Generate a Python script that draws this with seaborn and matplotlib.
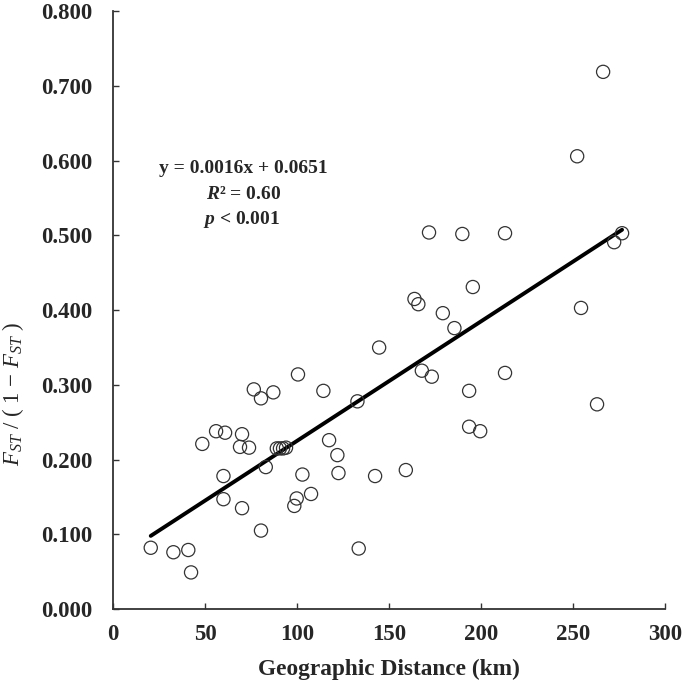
import numpy as np
import pandas as pd
import matplotlib
matplotlib.use('Agg')
import matplotlib.pyplot as plt
import seaborn as sns

# distancia geografica (km) e Fst/(1-Fst)
distancia = [20.5, 32.8, 40.9, 42.4, 48.5, 56.0, 60.9, 60.0, 60.0, 70.1,
             69.0, 73.9, 70.1, 76.5, 80.4, 87.1, 80.4, 83.0, 89.0, 90.7,
             92.4, 94.0, 100.5, 102.9, 99.8, 98.5, 114.3, 117.4, 121.9, 122.5,
             107.6, 132.8, 133.5, 142.4, 144.6, 159.1, 163.8, 165.9, 167.8, 173.2,
             171.7, 179.2, 185.5, 189.8, 193.5, 193.5, 195.5, 199.5, 213.0, 213.0,
             252.2, 254.3, 263.0, 266.3, 272.3, 276.6]
fst = [0.082, 0.076, 0.079, 0.049, 0.221, 0.238, 0.236, 0.178, 0.147, 0.234,
       0.217, 0.216, 0.135, 0.294, 0.282, 0.290, 0.105, 0.190, 0.215, 0.215,
       0.215, 0.216, 0.314, 0.180, 0.148, 0.138, 0.292, 0.226, 0.206, 0.182,
       0.154, 0.278, 0.081, 0.178, 0.350, 0.186, 0.415, 0.408, 0.319, 0.311,
       0.504, 0.396, 0.376, 0.502, 0.292, 0.244, 0.431, 0.238, 0.503, 0.316,
       0.606, 0.403, 0.274, 0.719, 0.491, 0.503]

# regressao informada no grafico
inclinacao = 0.0016
intercepto = 0.0651

x_ticks = [0, 50, 100, 150, 200, 250, 300]
y_ticks = [0.0, 0.1, 0.2, 0.3, 0.4, 0.5, 0.6, 0.7, 0.8]

dados = pd.DataFrame({'dist': distancia, 'fst': fst})
x_reta = [min(distancia), max(distancia)]
reta = pd.DataFrame({'dist': x_reta,
                     'fst': [inclinacao * v + intercepto for v in x_reta]})

sns.set_style('ticks')
plt.rcParams['font.family'] = ['Liberation Serif', 'DejaVu Serif']
plt.rcParams['mathtext.fontset'] = 'custom'
plt.rcParams['mathtext.rm'] = 'Liberation Serif'
plt.rcParams['mathtext.it'] = 'Liberation Serif:italic'
plt.rcParams['mathtext.bf'] = 'Liberation Serif:bold'
plt.rcParams['mathtext.bfit'] = 'Liberation Serif:bold:italic'

fig = plt.figure(figsize=(6.85, 6.87), dpi=100)
ax = fig.add_axes([0.165, 0.1135, 0.806, 0.870])

sns.scatterplot(data=dados, x='dist', y='fst', ax=ax, s=90,
                facecolor='none', edgecolor='#333333', linewidth=0.9, zorder=3)
sns.lineplot(data=reta, x='dist', y='fst', ax=ax, color='black',
             linewidth=2.8, zorder=2)

ax.set_xlim(0, 300)
ax.set_ylim(0, 0.8)
ax.set_xticks(x_ticks)
ax.set_yticks(y_ticks)
ax.set_xticklabels([str(t) for t in x_ticks], fontweight='bold', fontsize=16.5)
ax.set_yticklabels([f'{t:.3f}' for t in y_ticks], fontweight='bold', fontsize=16.5)
ax.tick_params(axis='both', direction='in', length=4, width=1, color='#333333')
ax.tick_params(axis='x', pad=11)
ax.tick_params(axis='y', pad=15)
sns.despine(ax=ax)
for lado in ['left', 'bottom']:
    ax.spines[lado].set_linewidth(1.3)
    ax.spines[lado].set_color('#333333')

ax.set_xlabel('Geographic Distance (km)', fontweight='bold', fontsize=16.8, labelpad=10)
ax.set_ylabel(r'$F_{ST}$ / ( 1 $-$ $F_{ST}$ )', fontsize=16.5)
ax.yaxis.set_label_coords(-0.158, 0.36)

ax.text(71, 0.589, 'y = 0.0016x + 0.0651', ha='center', va='center',
        fontweight='bold', fontsize=14)
ax.text(71, 0.555, r'$\mathbfit{R}$² = 0.60', ha='center', va='center',
        fontweight='bold', fontsize=14)
ax.text(70, 0.522, r'$\mathbfit{p}$ < 0.001', ha='center', va='center',
        fontweight='bold', fontsize=14)

plt.savefig('out.png', dpi=100)
